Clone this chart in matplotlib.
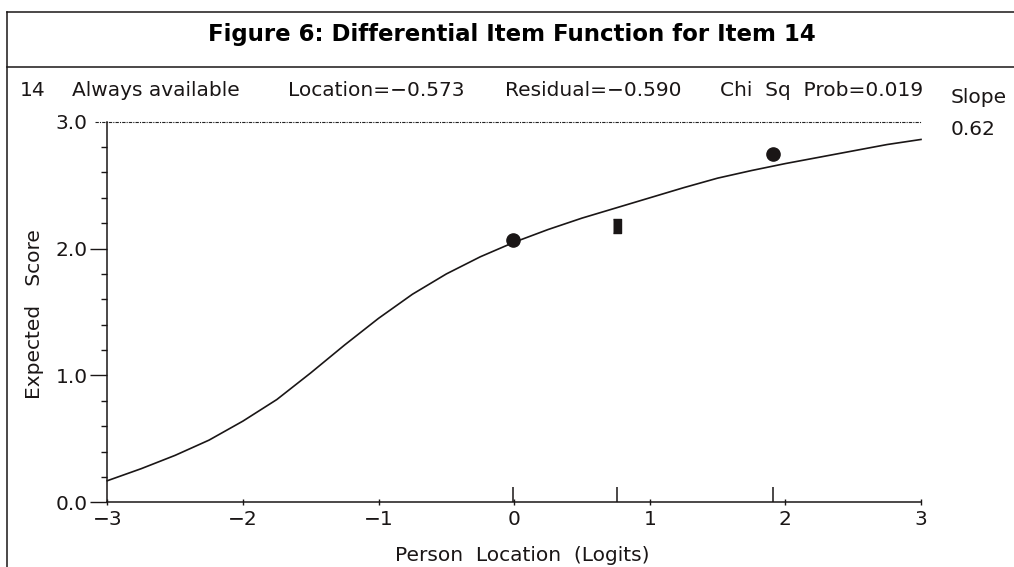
#!/usr/bin/env python3
"""Figura 6: DIF do item 14 (curva característica esperada + médias das classes)."""

import matplotlib
matplotlib.use("Agg")
import matplotlib.pyplot as plt  # noqa: E402
from matplotlib.lines import Line2D  # noqa: E402

# curva esperada do item
theta = [-3.0, -2.75, -2.5, -2.25, -2.0, -1.75, -1.5, -1.25, -1.0, -0.75,
         -0.5, -0.25, 0.0, 0.25, 0.5, 0.75, 1.0, 1.25, 1.5, 1.75,
         2.0, 2.25, 2.5, 2.75, 3.0]
expected = [0.17, 0.265, 0.37, 0.49, 0.64, 0.81, 1.02, 1.24, 1.45, 1.64,
            1.80, 1.935, 2.05, 2.15, 2.24, 2.32, 2.40, 2.48, 2.555, 2.615,
            2.67, 2.72, 2.77, 2.82, 2.86]

# médias observadas por intervalo de classe
class_loc = [-0.01, 0.76, 1.91]
class_obs = [2.07, 2.18, 2.745]
class_mark = ["o", "rect", "o"]

yticks = [0.0, 1.0, 2.0, 3.0]
yticklabels = ["0.0", "1.0", "2.0", "3.0"]
xticks = [-3, -2, -1, 0, 1, 2, 3]

title = "Figure 6: Differential Item Function for Item 14"
header = [("14", 20), ("Always available", 72), ("Location=\u22120.573", 288),
          ("Residual=\u22120.590", 505), ("Chi  Sq  Prob=0.019", 720)]
slope_txt = ["Slope", "0.62"]

W, H = 1014, 567
INK = "#1a1616"
FS = 14.5


def fx(px):
    return px / W


def fy(py):
    return 1 - py / H


plt.rcParams["font.family"] = ["DejaVu Sans"]
fig = plt.figure(figsize=(W / 100, H / 100), dpi=100)

# moldura (só topo, separador do título e lado esquerdo aparecem)
for (x0, x1, y0, y1) in [(7.3, W, 12.3, 12.3), (7.3, W, 66.5, 66.5), (7.3, 7.3, 12.3, H)]:
    fig.add_artist(Line2D([fx(x0), fx(x1)], [fy(y0), fy(y1)], color=INK, lw=1.1))

fig.text(fx(512), fy(41), title, ha="center", va="baseline",
         fontsize=16.5, fontweight="bold", color="black")
for txt, x in header:
    fig.text(fx(x), fy(96.5), txt, ha="left", va="baseline", fontsize=FS, color=INK)
fig.text(fx(951), fy(103), slope_txt[0], ha="left", va="baseline", fontsize=FS, color=INK)
fig.text(fx(951), fy(135), slope_txt[1], ha="left", va="baseline", fontsize=FS, color=INK)

ax = fig.add_axes([fx(107.3), fy(502.3), fx(921 - 107.3), (502.3 - 121.7) / H])
ax.set_xlim(-3, 3)
ax.set_ylim(0, 3)
ax.patch.set_visible(False)
for s in ("top", "right"):
    ax.spines[s].set_visible(False)
for s in ("left", "bottom"):
    ax.spines[s].set_color(INK)
    ax.spines[s].set_linewidth(1.1)

# linha de referência (pontilhada) no escore máximo
ax.plot([-3.09, 3.0], [3.0, 3.0], color="#222222", lw=0.8,
        linestyle=(0, (3, 1, 1, 1)), clip_on=False)

ax.plot(theta, expected, color=INK, lw=1.2, clip_on=False)

ax.vlines(class_loc, 0, 0.12, color=INK, lw=1.1)
rect = [(-0.3, -0.5), (0.3, -0.5), (0.3, 0.5), (-0.3, 0.5)]
for x, y, m in zip(class_loc, class_obs, class_mark):
    if m == "o":
        ax.plot(x, y, marker="o", ms=9.5, color=INK, mec=INK, clip_on=False)
    else:
        ax.plot(x, y, marker=rect, ms=9.5, color=INK, mec=INK, clip_on=False)

ax.set_yticks(yticks)
ax.set_yticklabels(yticklabels)
ax.set_yticks([v / 5 for v in range(16) if v % 5], minor=True)
ax.tick_params(axis="y", which="major", direction="out", length=12, width=1.0,
               pad=2, labelsize=FS, colors=INK)
ax.tick_params(axis="y", which="minor", direction="out", length=4.5, width=1.0, colors=INK)
ax.yaxis.get_major_ticks()[3].tick1line.set_visible(False)

ax.set_xticks(xticks)
ax.set_xticklabels([str(v).replace("-", "\u2212") for v in xticks])
ax.tick_params(axis="x", which="major", direction="inout", length=4, width=1.0,
               pad=3.5, labelsize=FS, colors=INK)

fig.text(fx(522), fy(561), "Person  Location  (Logits)", ha="center", va="baseline",
         fontsize=FS, color=INK)
fig.text(fx(35), fy(314), "Expected   Score", ha="center", va="center",
         rotation=90, fontsize=FS, color=INK)

fig.savefig("out.png", dpi=100)
